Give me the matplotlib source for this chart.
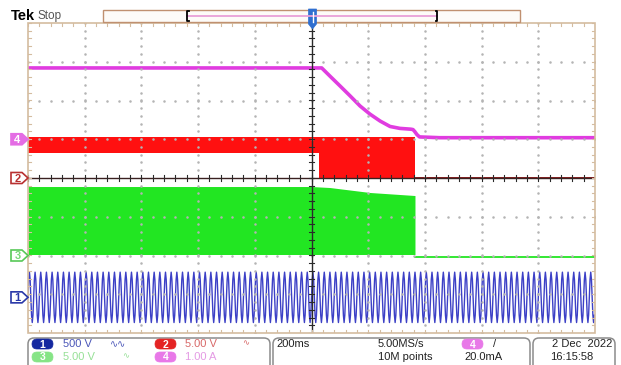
import numpy as np
import matplotlib
matplotlib.use("Agg")
import matplotlib.pyplot as plt
from matplotlib.patches import Polygon, Rectangle, FancyBboxPatch

plt.rcParams['font.family'] = ['Liberation Sans', 'DejaVu Sans']

# --- channel settings (per division) and offsets (divisions from centre)
ch1_scale, ch1_off = 500.0, -3.08   # V/div, mains voltage
ch2_scale, ch2_off = 5.0, 0.0       # V/div
ch3_scale, ch3_off = 5.0, -2.0      # V/div
ch4_scale, ch4_off = 1.0, 1.0       # A/div

# --- ch1: 50 Hz mains, one cycle, 100 cycles on 2 s
ch1_cycle = [0, 230, 325, 230, 0, -230, -325, -230]
ch1_cycles = 100

# --- ch2: switching signal envelope (ms, V)
ch2_t = [-1000, 26, 26, 365, 365, 1000]
ch2_hi = [5.23, 5.23, 5.32, 5.32, 0, 0]
ch2_lo = [3.29, 3.29, 0, 0, 0, 0]

# --- ch3: switching signal envelope (ms, V)
ch3_t = [-1000, 0, 65, 206, 365, 365, 1000]
ch3_hi = [8.9, 8.9, 8.77, 8.13, 7.74, -0.15, -0.15]
ch3_lo = [0.13, 0.13, 0.13, 0.13, 0.13, -0.15, -0.15]

# --- ch4: current (ms, A)
ch4_t = [-1000, 36, 65, 100, 136, 171, 206, 242, 277, 312, 350, 358, 364, 372, 381, 452, 1000]
ch4_a = [1.84, 1.84, 1.63, 1.38, 1.12, 0.86, 0.65, 0.47, 0.33, 0.28, 0.26, 0.25, 0.20, 0.12, 0.06, 0.04, 0.04]

# colours
c_blue, c_red, c_green, c_mag = '#3c40c6', '#ff1010', '#22e622', '#e03ce0'
tan = '#d4bca0'

W, H = 621, 365
fig = plt.figure(figsize=(W / 100, H / 100), dpi=100)
fig.patch.set_facecolor('white')

# graticule area in pixels
gx0, gx1, gy0, gy1 = 28, 595, 23, 333
ax = fig.add_axes([gx0 / W, 1 - gy1 / H, (gx1 - gx0) / W, (gy1 - gy0) / H])
ax.set_xlim(-1000, 1000)
ax.set_ylim(-4, 4)
ax.axis('off')

# traces
n = len(ch1_cycle) * ch1_cycles
t1 = np.linspace(-1000, 1000, n, endpoint=False)
v1 = np.tile(ch1_cycle, ch1_cycles)
ax.plot(t1, np.array(v1) / ch1_scale + ch1_off, color=c_blue, lw=1.0, zorder=3)

ax.fill_between(ch2_t, np.array(ch2_lo) / ch2_scale + ch2_off,
                np.array(ch2_hi) / ch2_scale + ch2_off, color=c_red, lw=0, zorder=3)
ax.plot([365, 1000], [ch2_off, ch2_off], color='#8a1c1c', lw=1.4, zorder=3)

ax.fill_between(ch3_t, np.array(ch3_lo) / ch3_scale + ch3_off,
                np.array(ch3_hi) / ch3_scale + ch3_off, color=c_green, lw=0, zorder=3)
ax.plot([365, 1000], [-0.15 / ch3_scale + ch3_off] * 2, color=c_green, lw=1.3, zorder=3)

ax.plot(ch4_t, np.array(ch4_a) / ch4_scale + ch4_off, color=c_mag, lw=2.6, zorder=4,
        solid_capstyle='butt', solid_joinstyle='round')

# graticule dots
for gx in range(-800, 1000, 200):
    if gx == 0:
        continue
    ys = np.arange(-4, 4.01, 0.2)
    ax.plot([gx] * len(ys), ys, ls='none', marker='s', ms=0.75, color='#b4b4b4', zorder=5)
for gy in range(-3, 4):
    if gy == 0:
        continue
    xs = np.arange(-1000, 1001, 40)
    ax.plot(xs, [gy] * len(xs), ls='none', marker='s', ms=0.75, color='#b4b4b4', zorder=5)

# centre cross with minor ticks
ax.axvline(0, color='#2a2a2a', lw=1.0, zorder=6)
ax.axhline(0, color='#3a2020', lw=1.0, zorder=6)
for yy in np.arange(-4, 4.01, 0.2):
    ax.plot([-10, 10], [yy, yy], color='#2a2a2a', lw=0.8, zorder=6)
for xx in np.arange(-1000, 1001, 40):
    ax.plot([xx, xx], [-0.08, 0.08], color='#2a2a2a', lw=0.8, zorder=6)

# border with edge ticks
ax.add_patch(Rectangle((-1000, -4), 2000, 8, fill=False, ec=tan, lw=1.2, zorder=7, clip_on=False))
for xx in np.arange(-1000, 1001, 40):
    ax.plot([xx, xx], [4, 3.92], color=tan, lw=0.8, zorder=7)
    ax.plot([xx, xx], [-4, -3.92], color=tan, lw=0.8, zorder=7)
for yy in np.arange(-4, 4.01, 0.2):
    ax.plot([-1000, -989], [yy, yy], color=tan, lw=0.8, zorder=7)
    ax.plot([1000, 989], [yy, yy], color=tan, lw=0.8, zorder=7)

# overlay in pixel coordinates for the instrument decorations
ov = fig.add_axes([0, 0, 1, 1], zorder=10)
ov.set_xlim(0, W)
ov.set_ylim(H, 0)
ov.axis('off')
ov.patch.set_alpha(0)

ov.text(11, 16, 'Tek', fontsize=10.5, fontweight='bold', color='black', va='center')
ov.text(38, 16, 'Stop', fontsize=8.5, color='#555555', va='center')

# record view bar
ov.add_patch(Rectangle((103, 10), 417, 12, fc='#fdfbf8', ec='#c09070', lw=1))
ov.plot([187, 437], [16, 16], color='#e8a0d8', lw=1.3)
ov.plot([188.5, 187, 187, 188.5], [11, 11, 21, 21], color='black', lw=1.3)
ov.plot([435.5, 437, 437, 435.5], [11, 11, 21, 21], color='black', lw=1.3)

# trigger marker
ov.add_patch(Polygon([(308.5, 9), (316.5, 9), (316.5, 24), (312.5, 29), (308.5, 24)],
                     closed=True, fc='#2f6fd0', ec='#2f6fd0', lw=0.5))
ov.plot([312.5, 312.5], [12, 22], color='white', lw=1)

# channel ground markers on the left


def gnd_marker(off, label, fc, ec, tc):
    yc = gy0 + (4 - off) * (gy1 - gy0) / 8
    ov.add_patch(Polygon([(11, yc - 5.5), (22, yc - 5.5), (28, yc), (22, yc + 5.5), (11, yc + 5.5)],
                         closed=True, fc=fc, ec=ec, lw=1.2))
    ov.text(17.5, yc + 0.5, label, fontsize=8, color=tc, ha='center', va='center', fontweight='bold')


gnd_marker(ch4_off, '4', '#e46ce4', '#e46ce4', 'white')
gnd_marker(ch2_off, '2', 'white', '#b83030', '#b83030')
gnd_marker(ch3_off, '3', 'white', '#58c858', '#78d878')
gnd_marker(ch1_off, '1', 'white', '#2a38a8', '#2a38a8')

# status bar boxes
for bx0, bx1 in [(28, 270), (273, 530), (533, 615)]:
    ov.add_patch(FancyBboxPatch((bx0, 338), bx1 - bx0, 34,
                                boxstyle='round,pad=0,rounding_size=6',
                                fc='none', ec='#8c8c8c', lw=1.1))

r1, r2 = 344, 357


def badge(x, y, label, fc):
    ov.add_patch(FancyBboxPatch((x, y - 5), 21, 10, boxstyle='round,pad=0,rounding_size=5',
                                fc=fc, ec=fc, lw=0.5))
    ov.text(x + 10.5, y + 0.5, label, fontsize=7.5, color='white', ha='center', va='center',
            fontweight='bold')


badge(32, r1, '1', '#1428a0')
ov.text(63, r1, '500 V', fontsize=8, color='#4a56b8', va='center')
ov.text(110, r1, '∿∿', fontsize=7, color='#4a56b8', va='center')
badge(155, r1, '2', '#e42424')
ov.text(185, r1, '5.00 V', fontsize=8, color='#d86868', va='center')
ov.text(242, r1, '∿', fontsize=6, color='#d86868', va='center')

badge(32, r2, '3', '#86e486')
ov.text(63, r2, '5.00 V', fontsize=8, color='#96e096', va='center')
ov.text(122, r2, '∿', fontsize=6, color='#96e096', va='center')
badge(155, r2, '4', '#e878e8')
ov.text(185, r2, '1.00 A', fontsize=8, color='#e49ae4', va='center')

ov.text(276, r1, '200ms', fontsize=8, color='#222222', va='center')
ov.text(378, r1, '5.00MS/s', fontsize=8, color='#222222', va='center')
ov.text(378, r2, '10M points', fontsize=8, color='#222222', va='center')
badge(462, r1, '4', '#e878e8')
ov.text(493, r1, '/', fontsize=8, color='#222222', va='center')
ov.text(464, r2, '20.0mA', fontsize=8, color='#222222', va='center')

ov.text(612, r1, '2 Dec  2022', fontsize=8, color='#222222', va='center', ha='right')
ov.text(550, r2, '16:15:58', fontsize=8, color='#222222', va='center')

fig.savefig('out.png', dpi=100)
